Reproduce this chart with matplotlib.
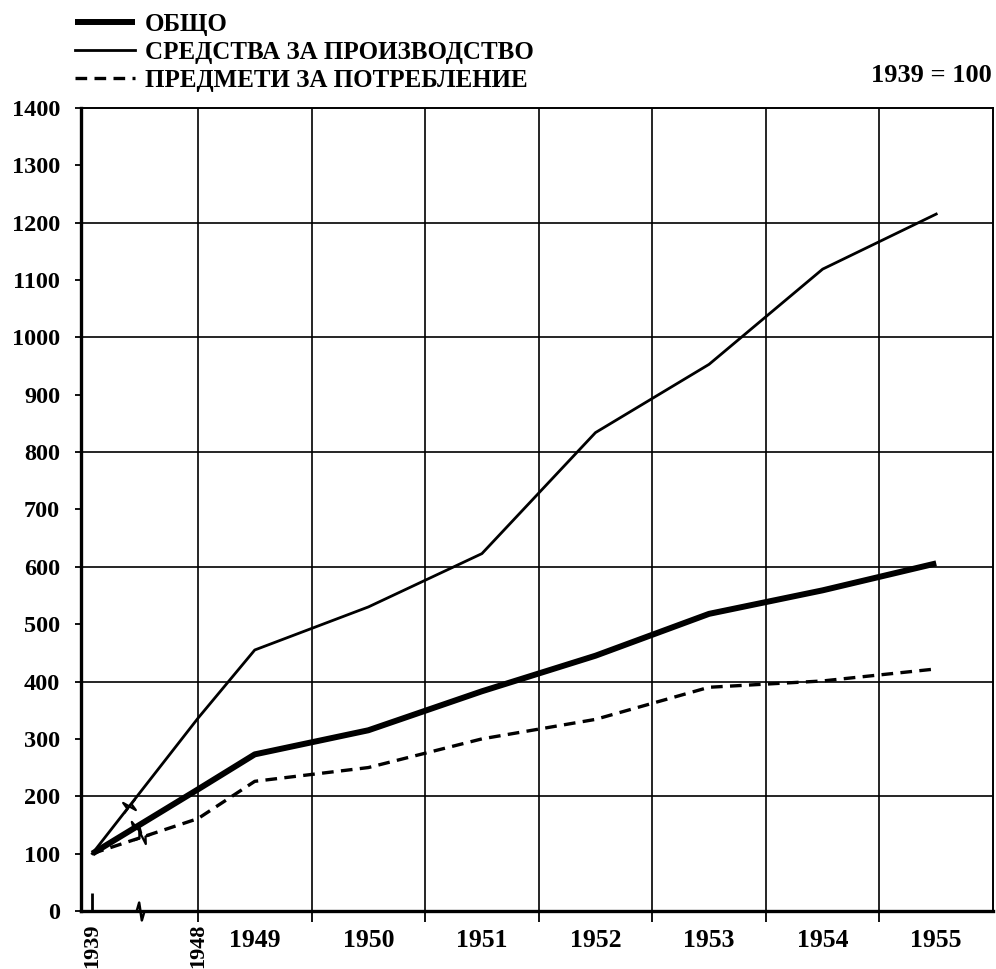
import math

import matplotlib
matplotlib.use('Agg')
import matplotlib.pyplot as plt
from matplotlib.path import Path
from matplotlib.markers import MarkerStyle
from matplotlib.transforms import Affine2D

plt.rcParams['font.family'] = ['Liberation Serif', 'DejaVu Serif']
plt.rcParams['font.weight'] = 'bold'

# index 1939 = 100
years = [1939, 1948, 1949, 1950, 1951, 1952, 1953, 1954, 1955]
total = [100, 212, 273, 315, 383, 445, 518, 559, 606]
production = [100, 336, 455, 530, 623, 834, 953, 1119, 1215]
consumer = [100, 161, 226, 250, 300, 334, 390, 401, 422]

series_labels = ['ОБЩО', 'СРЕДСТВА ЗА ПРОИЗВОДСТВО', 'ПРЕДМЕТИ ЗА ПОТРЕБЛЕНИЕ']
base_note = '1939 = 100'
edge_labels = ['1939', '1948']
year_labels = ['1949', '1950', '1951', '1952', '1953', '1954', '1955']


def year_pos(y):
    # broken time axis: 1939 squeezed in front of the 1948 line,
    # later years sit in the middle of their interval
    if y == 1939:
        return -0.93
    if y == 1948:
        return 0.0
    return y - 1948.5


x = [year_pos(y) for y in years]

fig = plt.figure(figsize=(9.96, 9.69), dpi=100)
ax = fig.add_axes([0.0813, 0.0599, 0.9157, 0.8287])
ax.set_xlim(-1.03, 7.0)
ax.set_ylim(0, 1400)

# grid
for gy in range(200, 1400, 200):
    ax.axhline(gy, color='black', lw=1.2, zorder=1)
for gx in range(0, 7):
    ax.axvline(gx, color='black', lw=1.2, zorder=1)

l_prod, = ax.plot(x, production, color='black', lw=2.0, zorder=3)
l_tot, = ax.plot(x, total, color='black', lw=4.3, zorder=3,
                 solid_capstyle='butt')
l_cons, = ax.plot(x, consumer, color='black', lw=2.4, ls=(0, (3.5, 2.2)),
                  zorder=3)

for side in ['left', 'bottom']:
    ax.spines[side].set_linewidth(2.4)
for side in ['top', 'right']:
    ax.spines[side].set_linewidth(1.4)

# y axis
ax.set_yticks(range(0, 1500, 100))
ax.tick_params(axis='y', direction='out', length=4.5, width=1.3,
               labelsize=17.5, pad=10.5)

# x axis: grid-line ticks, with 1939 and 1948 written upright
major_x = [year_pos(1939)] + list(range(0, 7))
ax.set_xticks(major_x, edge_labels + [''] * 6)
for lab in ax.get_xticklabels():
    lab.set_rotation(90)
ax.tick_params(axis='x', which='major', direction='out', length=8,
               width=1.3, labelsize=16, pad=1)
ax.xaxis.get_major_ticks()[0].tick1line.set_visible(False)
ax.set_xticks([year_pos(y) for y in range(1949, 1956)], year_labels,
              minor=True)
ax.tick_params(axis='x', which='minor', length=0, labelsize=18.5, pad=13)

# little upright mark at 1939 on the base line
ax.vlines(year_pos(1939), 0, 32, color='black', lw=2.0, zorder=4)

# zigzag break marks
zz = Path([(-1, 0), (-0.35, 0), (-0.12, 0.8), (0.12, -0.8), (0.35, 0), (1, 0)],
          [Path.MOVETO] + [Path.LINETO] * 5)


def break_mark(vals, frac, size=13, lw=1.6):
    x0, x1 = x[0], x[1]
    y0, y1 = vals[0], vals[1]
    bx = x0 + frac * (x1 - x0)
    by = y0 + frac * (y1 - y0)
    p0 = ax.transData.transform((x0, y0))
    p1 = ax.transData.transform((x1, y1))
    ang = math.degrees(math.atan2(p1[1] - p0[1], p1[0] - p0[0]))
    m = MarkerStyle(zz, transform=Affine2D().rotate_deg(ang))
    ax.plot([bx], [by], marker=m, ms=size, mec='black', mfc='none',
            mew=lw, ls='none', zorder=5, clip_on=False)


break_mark(production, 0.35)
break_mark(total, 0.41)
break_mark(consumer, 0.47)
break_mark([0, 0], 0.45, size=16, lw=1.8)

fig.legend([l_tot, l_prod, l_cons], series_labels, loc='upper left',
           bbox_to_anchor=(0.0753, 0.987), frameon=False, fontsize=18,
           handlelength=2.4, handletextpad=0.4, labelspacing=0.2,
           borderpad=0, borderaxespad=0)

fig.text(0.996, 0.9226, base_note, ha='right', va='center', fontsize=19)

fig.savefig('out.png', dpi=100)
